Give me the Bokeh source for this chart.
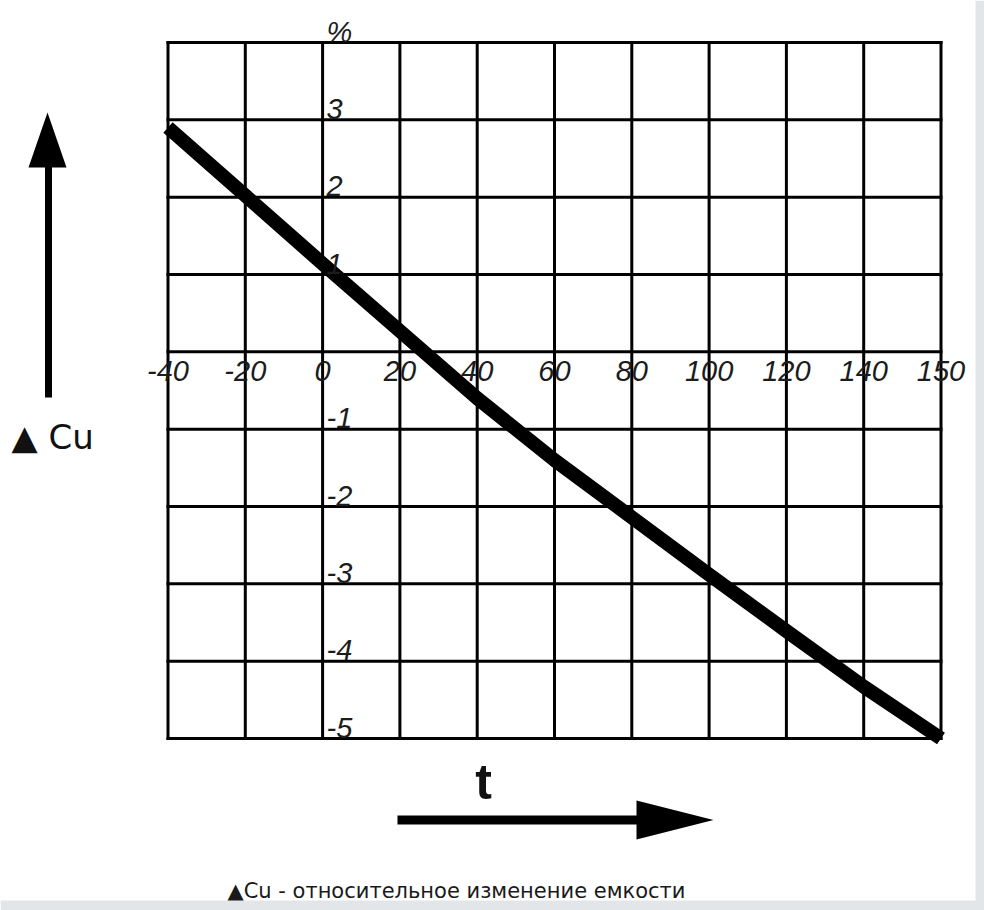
import numpy as np
from bokeh.plotting import figure
from bokeh.models import Range1d
from bokeh.core.properties import value
from bokeh.embed import file_html
from bokeh.resources import INLINE

# ---------------- data ----------------
temps = [-40, -20, 0, 20, 40, 60, 80, 100, 120, 140, 150]
cu_change = [2.9, 2.02, 1.14, 0.27, -0.6, -1.4, -2.14, -2.88, -3.61, -4.33, -5.0]

x_tick_temps = [-40, -20, 0, 20, 40, 60, 80, 100, 120, 140, 150]
x_tick_labels = ["-40", "-20", "0", "20", "40", "60", "80", "100", "120", "140", "150"]
# grid columns are evenly spaced on the drawing (last column 140->150 has full width)
x_tick_pos = [-40, -20, 0, 20, 40, 60, 80, 100, 120, 140, 160]
y_grid = [4, 3, 2, 1, 0, -1, -2, -3, -4, -5]
y_tick_values = [4, 3, 2, 1, -1, -2, -3, -4, -5]
y_tick_labels = ["%", "3", "2", "1", "-1", "-2", "-3", "-4", "-5"]

y_axis_title = "▲ Cu"
x_axis_title = "t"
footnote = "▲Cu - относительное изменение емкости"

# ---------------- layout ----------------
W, H = 984, 910
OFF = 0
GX0, GX1 = 167.5, 940.5   # page px of first/last grid column
GY0, GY1 = 42.0, 738.0    # page px of top/bottom grid row

xs, xe = x_tick_pos[0], x_tick_pos[-1]
yt, yb = y_grid[0], y_grid[-1]
kx = (GX1 - GX0) / (xe - xs)
ky = (GY1 - GY0) / (yt - yb)


def X(px):
    return xs + (px - GX0) / kx


def Y(py):
    return yt - (py - GY0) / ky


p = figure(width=W, height=H,
           x_range=Range1d(X(OFF), X(OFF + W)),
           y_range=Range1d(Y(OFF + H), Y(OFF)),
           output_backend="svg", toolbar_location=None,
           x_axis_location=None, y_axis_location=None,
           min_border=0, outline_line_color=None,
           background_fill_color="white", border_fill_color="white")
p.grid.visible = False

FONT = value("Liberation Sans, DejaVu Sans")
SYM_FONT = value("DejaVu Sans")
LABEL_COLOR = "#1c1c1c"

# photo-edge background strips
p.quad(left=[X(975), X(0)], right=[X(984), X(984)], top=[Y(0), Y(900)], bottom=[Y(910), Y(910)],
       fill_color="#e3e6e9", line_width=0)

# grid
p.segment(x0=x_tick_pos, y0=[yb] * len(x_tick_pos), x1=x_tick_pos, y1=[yt] * len(x_tick_pos),
          line_color="black", line_width=3, line_cap="square")
p.segment(x0=[xs] * len(y_grid), y0=y_grid, x1=[xe] * len(y_grid), y1=y_grid,
          line_color="black", line_width=3, line_cap="square")

# data line
xpos = np.interp(temps, x_tick_temps, x_tick_pos)
p.line(x=xpos, y=cu_change, line_color="black", line_width=14,
       line_cap="butt", line_join="round")

# x tick labels along the zero line
p.text(x=x_tick_pos, y=[Y(370)] * len(x_tick_pos), text=x_tick_labels,
       text_font=FONT, text_font_size=value("29px"), text_font_style="italic",
       text_color=LABEL_COLOR, text_align="center", text_baseline="middle")

# y tick labels to the right of the zero column
zero_x = float(np.interp(0, x_tick_temps, x_tick_pos))
lab_x = zero_x + 4 / kx
p.text(x=[lab_x] * len(y_tick_values), y=[v + 11 / ky for v in y_tick_values],
       text=y_tick_labels, text_font=FONT, text_font_size=value("29px"),
       text_font_style="italic", text_color=LABEL_COLOR,
       text_align="left", text_baseline="middle")

# vertical arrow (left)
p.segment(x0=[X(48)], y0=[Y(397)], x1=[X(48)], y1=[Y(160)], line_color="black", line_width=7)
p.patch(x=[X(28), X(66), X(47)], y=[Y(167), Y(167), Y(112)], color="black", line_width=0)
p.text(x=[X(11)], y=[Y(436)], text=[y_axis_title], text_font=SYM_FONT,
       text_font_size=value("34px"), text_color="#111111",
       text_align="left", text_baseline="middle")

# horizontal arrow (bottom)
p.segment(x0=[X(397)], y0=[Y(819.5)], x1=[X(645)], y1=[Y(819.5)], line_color="black", line_width=9)
p.patch(x=[X(636), X(636), X(713)], y=[Y(800), Y(839), Y(819.5)], color="black", line_width=0)
p.text(x=[X(483)], y=[Y(781)], text=[x_axis_title], text_font=FONT,
       text_font_size=value("50px"), text_font_style="bold", text_color="#111111",
       text_align="center", text_baseline="middle")

# footnote
p.text(x=[X(227)], y=[Y(890)], text=[footnote], text_font=SYM_FONT,
       text_font_size=value("21px"), text_color="#1a1a1a",
       text_align="left", text_baseline="middle")

open("out.html", "w").write(file_html(p, INLINE))
